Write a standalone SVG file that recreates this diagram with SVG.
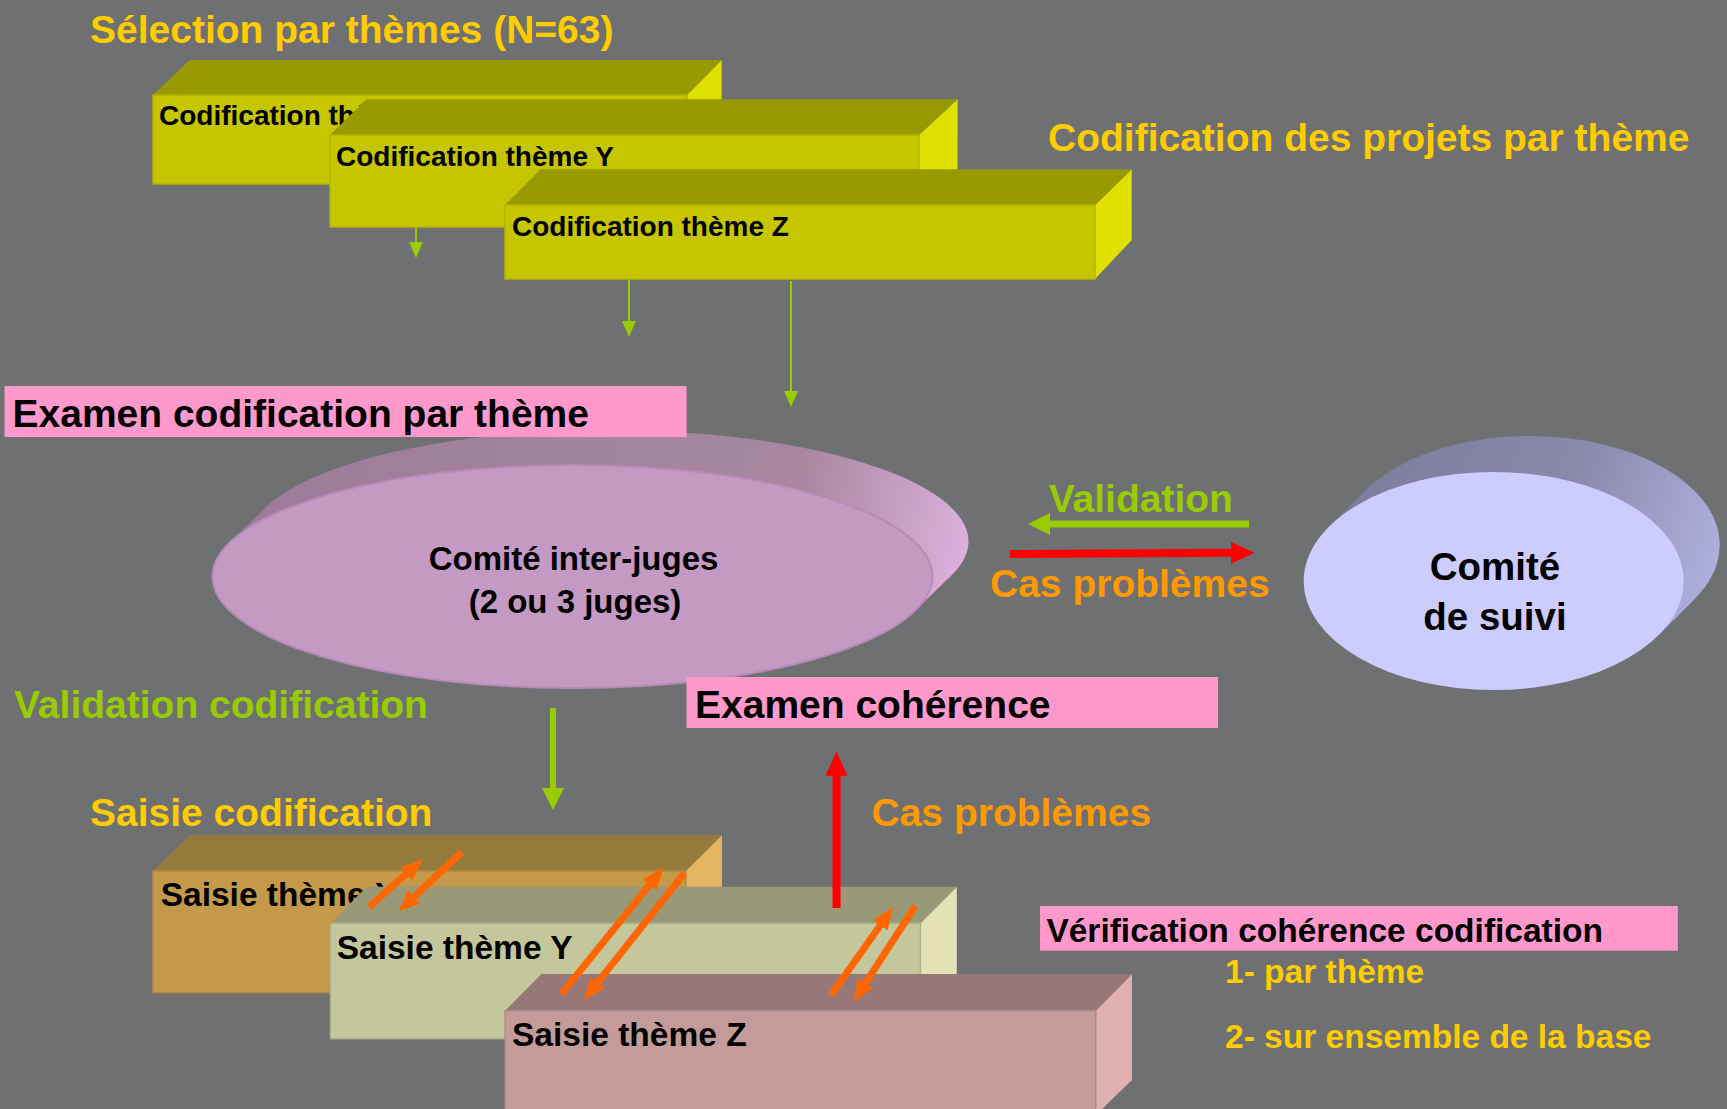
<svg xmlns="http://www.w3.org/2000/svg" width="1727" height="1109" viewBox="0 0 1727 1109">
<defs>
<style>
text{font-family:"Liberation Sans",Arial,sans-serif;font-weight:bold}
.yl{fill:#FFCC00;font-size:39px}
.gr{fill:#99CC00;font-size:39px}
.or{fill:#FF9900;font-size:39px}
.bk{fill:#000;font-size:39px}
.cod{fill:#000;font-size:28px}
.sai{fill:#000;font-size:33.5px}
.pink{fill:#FF99CC}
.cf{fill:#C6C600;stroke:#B4B400;stroke-width:1.5}
.ct{fill:#999900}
.cr{fill:#E1E100}
.sxf{fill:#C49A4A;stroke:#B08840;stroke-width:1.5}
.sxt{fill:#967A3C}
.sxr{fill:#E2B55E}
.syf{fill:#C4C69C;stroke:#B0B28A;stroke-width:1.5}
.syt{fill:#999977}
.syr{fill:#E2E2B4}
.szf{fill:#C49A9A;stroke:#B08A8A;stroke-width:1.5}
.szt{fill:#977878}
.szr{fill:#E1B1B1}
.ao{stroke:#FF6600;stroke-width:7;fill:none;marker-end:url(#mo)}
.ar{stroke:#FF0000;stroke-width:8;fill:none;marker-end:url(#mr)}
.ag{stroke:#99CC00;stroke-width:7;fill:none;marker-end:url(#mg)}
.as{stroke:#99CC00;stroke-width:2;fill:none;marker-end:url(#ms)}
</style>
<marker id="mo" markerUnits="userSpaceOnUse" markerWidth="22" markerHeight="18" refX="4" refY="9" orient="auto"><path d="M0,0 L22,9 L0,18 z" fill="#FF6600"/></marker>
<marker id="mr" markerUnits="userSpaceOnUse" markerWidth="24" markerHeight="22" refX="2" refY="11" orient="auto"><path d="M0,0 L24,11 L0,22 z" fill="#FF0000"/></marker>
<marker id="mg" markerUnits="userSpaceOnUse" markerWidth="22" markerHeight="22" refX="2" refY="11" orient="auto"><path d="M0,0 L22,11 L0,22 z" fill="#99CC00"/></marker>
<marker id="ms" markerUnits="userSpaceOnUse" markerWidth="16" markerHeight="14" refX="1" refY="7" orient="auto"><path d="M0,0 L16,7 L0,14 z" fill="#99CC00"/></marker>
<linearGradient id="gj" gradientUnits="userSpaceOnUse" x1="260" y1="450" x2="968" y2="570">
<stop offset="0" stop-color="#9C7C9A"/><stop offset="0.75" stop-color="#A8879F"/><stop offset="1" stop-color="#DDB1DF"/>
</linearGradient>
<linearGradient id="gs" gradientUnits="userSpaceOnUse" x1="1340" y1="470" x2="1720" y2="600">
<stop offset="0" stop-color="#7C7C9C"/><stop offset="0.55" stop-color="#8888AA"/><stop offset="1" stop-color="#B2B2E2"/>
</linearGradient>
</defs>
<rect x="0" y="0" width="1727" height="1109" fill="#6F7072"/>

<g id="title-selection"><text class="yl" x="90" y="42.5">Sélection par thèmes (N=63)</text></g>
<g id="label-codification-projets"><text class="yl" x="1048" y="150.5">Codification des projets par thème</text></g>

<g id="box-codif-x">
<polygon class="cr" points="687,95 721.6,60 721.6,149 687,184"/>
<polygon class="ct" points="153,95 189.7,60 721.6,60 687,95"/>
<rect class="cf" x="153" y="95" width="534" height="89"/>
<text class="cod" x="159" y="125">Codification thème X</text>
</g>
<g id="box-codif-y">
<polygon class="cr" points="919,135 957.6,99.3 957.6,191 919,227"/>
<polygon class="ct" points="330,135 366.4,99.3 957.6,99.3 919,135"/>
<rect class="cf" x="330" y="135" width="589" height="92"/>
<text class="cod" x="336" y="165.5">Codification thème Y</text>
</g>
<g id="box-codif-z">
<polygon class="cr" points="1095,205 1131.7,169.3 1131.7,240 1095,279"/>
<polygon class="ct" points="505,205 540.5,169.3 1131.7,169.3 1095,205"/>
<rect class="cf" x="505" y="205" width="590" height="74"/>
<text class="cod" x="512" y="235.5">Codification thème Z</text>
</g>

<g id="comite-inter-juges">
<ellipse cx="608.5" cy="541.5" rx="360" ry="111.5" fill="url(#gj)"/>
<polygon points="229.5,542.7 265.5,507.7 951.5,575.3 915.5,610.3" fill="url(#gj)"/>
<ellipse cx="572.5" cy="576.5" rx="360" ry="111.5" fill="#C49AC4" stroke="#B68CB6" stroke-width="2"/>
<text class="bk" style="font-size:33px" x="573.5" y="569.5" text-anchor="middle">Comité inter-juges</text>
<text class="bk" style="font-size:33px" x="575" y="612.5" text-anchor="middle">(2 ou 3 juges)</text>
</g>

<g id="comite-suivi">
<ellipse cx="1529.7" cy="545" rx="190" ry="109" fill="url(#gs)"/>
<polygon points="1328.9,526.8 1364.9,490.8 1694.5,599.2 1658.5,635.2" fill="url(#gs)"/>
<ellipse cx="1493.7" cy="581" rx="190" ry="109" fill="#CCCCFF"/>
<text class="bk" style="font-size:38.5px" x="1495" y="579.5" text-anchor="middle">Comité</text>
<text class="bk" style="font-size:38.5px" x="1495" y="629.5" text-anchor="middle">de suivi</text>
</g>

<g id="label-examen-codification">
<rect class="pink" x="4.5" y="386" width="682" height="51"/>
<text class="bk" x="12.5" y="426.5">Examen codification par thème</text>
</g>
<g id="label-examen-coherence">
<rect class="pink" x="686.5" y="677" width="531.5" height="51"/>
<text class="bk" x="695" y="718">Examen cohérence</text>
</g>

<g id="label-validation"><text class="gr" x="1048.7" y="511.5">Validation</text></g>
<g id="label-cas-problemes-1"><text class="or" x="990" y="597">Cas problèmes</text></g>
<g id="label-validation-codification"><text class="gr" x="14" y="718">Validation codification</text></g>
<g id="label-saisie-codification"><text class="yl" x="90" y="825.5">Saisie codification</text></g>
<g id="label-cas-problemes-2"><text class="or" x="871.5" y="826">Cas problèmes</text></g>

<g id="box-saisie-x">
<polygon class="sxr" points="685.7,871 722,835 722,957 685.7,992.7"/>
<polygon class="sxt" points="153,871 190,835 722,835 685.7,871"/>
<rect class="sxf" x="153" y="871" width="532.7" height="121.7"/>
<text class="sai" x="160.7" y="905.5">Saisie thème X</text>
</g>
<g id="box-saisie-y">
<polygon class="syr" points="920.4,923.3 956.8,886.7 956.8,1002 920.4,1038.7"/>
<polygon class="syt" points="330.5,923.3 366.7,886.7 956.8,886.7 920.4,923.3"/>
<rect class="syf" x="330.5" y="923.3" width="589.9" height="115.4"/>
<text class="sai" x="336.7" y="959">Saisie thème Y</text>
</g>
<g id="box-saisie-z">
<polygon class="szr" points="1095.8,1010.7 1132,974 1132,1080 1095.8,1115"/>
<polygon class="szt" points="505.2,1010.7 541.5,974 1132,974 1095.8,1010.7"/>
<rect class="szf" x="505.2" y="1010.7" width="590.6" height="110"/>
<text class="sai" x="512" y="1045.5">Saisie thème Z</text>
</g>

<g id="label-verification">
<rect class="pink" x="1040" y="906" width="637.8" height="44.7"/>
<text class="bk" style="font-size:33.5px" x="1046.4" y="941.5">Vérification cohérence codification</text>
<text class="yl" style="font-size:33.5px" x="1225" y="982.5">1- par thème</text>
<text class="yl" style="font-size:33.5px" x="1225" y="1047.5">2- sur ensemble de la base</text>
</g>

<g id="connectors">
<line class="as" x1="416" y1="227" x2="416" y2="243"/>
<line class="as" x1="629" y1="279" x2="629" y2="322"/>
<line class="as" x1="791" y1="281" x2="791" y2="392"/>
<line class="ag" x1="1249" y1="524" x2="1048" y2="524"/>
<line class="ar" x1="1010" y1="554" x2="1232.7" y2="552.8"/>
<line class="ag" x1="553" y1="708" x2="553" y2="790" style="stroke-width:6"/>
<line class="ar" x1="836.5" y1="908" x2="836.5" y2="773.7"/>
<line class="ao" x1="369" y1="907" x2="409.5" y2="871.2"/>
<line class="ao" x1="461.7" y1="852.3" x2="411.4" y2="899.4"/>
<line class="ao" x1="561.4" y1="994" x2="652.1" y2="881.7"/>
<line class="ao" x1="684.4" y1="873.3" x2="594.9" y2="985.9"/>
<line class="ao" x1="831.1" y1="995" x2="882.6" y2="922"/>
<line class="ao" x1="915.3" y1="906" x2="863.2" y2="986.6"/>
</g>
</svg>
